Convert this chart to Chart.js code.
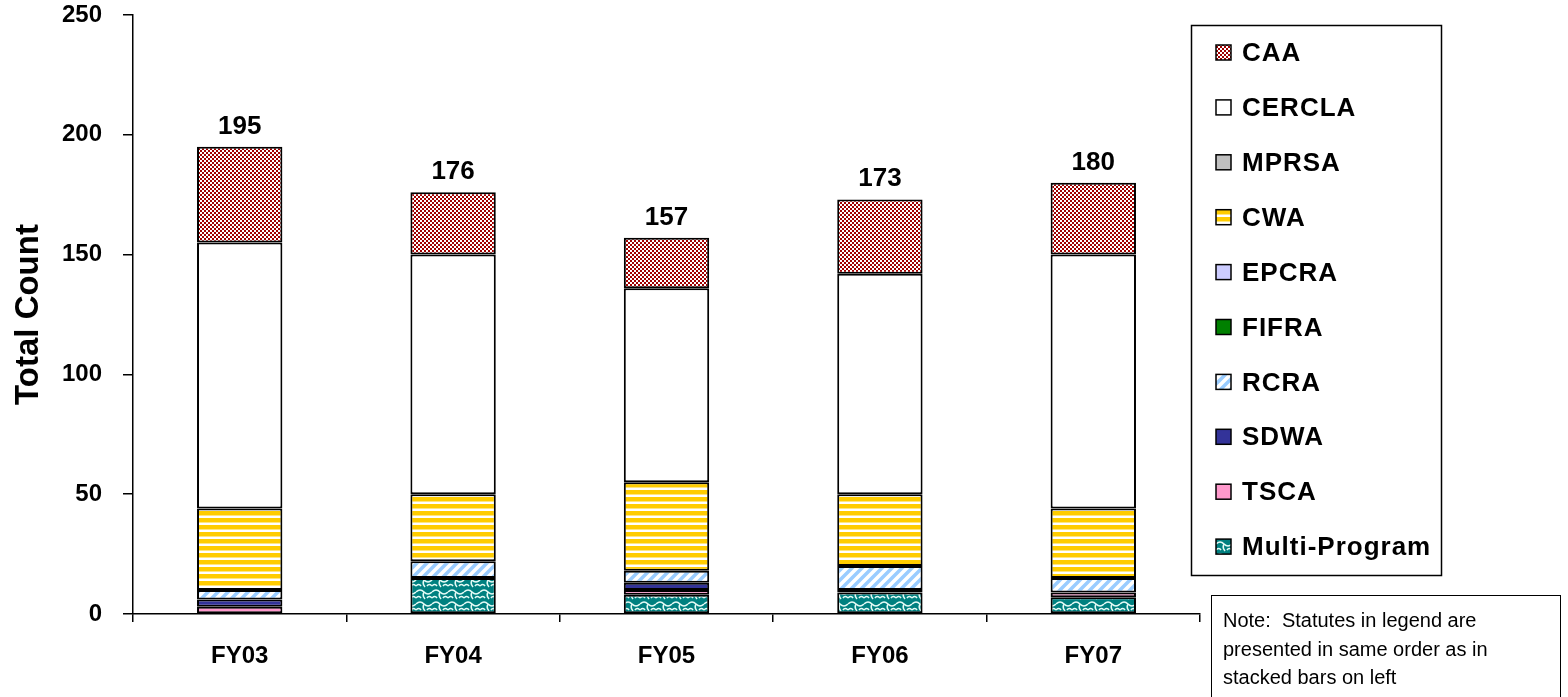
<!DOCTYPE html>
<html>
<head>
<meta charset="utf-8">
<title>Total Count by Statute</title>
<script src="https://cdn.jsdelivr.net/npm/chart.js@4.4.1/dist/chart.umd.min.js"></script>
<style>
  html, body { margin: 0; padding: 0; background: #fff; }
  #wrap { position: relative; width: 1568px; height: 697px; overflow: hidden; }
  #note {
    position: absolute; left: 1211px; top: 595px; width: 350px; height: 120px;
    border: 1.5px solid #000; box-sizing: border-box;
    padding: 10px 0 0 11px;
    font: 20px "Liberation Sans", Arial, sans-serif; line-height: 28.5px; color: #000;
  }
</style>
</head>
<body>
<div id="wrap">
  <canvas id="chart" width="1568" height="697"></canvas>
  <div id="note">Note:&nbsp; Statutes in legend are<br>presented in same order as in<br>stacked bars on left</div>
</div>
<script>
// data (stack order, bottom first)
const categories = ['FY03', 'FY04', 'FY05', 'FY06', 'FY07'];
const multiProgram = [0, 15, 8, 9, 7];
const tsca = [3, 0, 2, 1, 2];
const sdwa = [3, 0, 3, 0, 0];
const rcra = [4, 7, 5, 10, 6];
const fifra = [0, 0, 0, 0, 0];
const epcra = [0, 0, 0, 0, 0];
const cwa = [34, 28, 37, 30, 29];
const mprsa = [0, 0, 0, 0, 0];
const cercla = [111, 100, 81, 92, 106];
const caa = [40, 26, 21, 31, 30];
const yTicks = [0, 50, 100, 150, 200, 250];

const FONT = '"Liberation Sans", Arial, sans-serif';

// little pattern tiles
function tile(w, h, draw) {
    const c = document.createElement('canvas');
    c.width = w; c.height = h;
    const g = c.getContext('2d');
    draw(g);
    return document.getElementById('chart').getContext('2d').createPattern(c, 'repeat');
}

const checkRed = tile(4, 4, g => {
    g.fillStyle = '#a00000'; g.fillRect(0, 0, 4, 4);
    g.fillStyle = '#ffffff'; g.fillRect(0, 0, 2, 2); g.fillRect(2, 2, 2, 2);
});
const stripeYellow = tile(7, 7, g => {
    g.fillStyle = '#ffffff'; g.fillRect(0, 0, 7, 7);
    g.fillStyle = '#ffcc00'; g.fillRect(0, 0, 7, 4);
    g.fillStyle = '#ffe680'; g.fillRect(0, 4, 7, 1);
});
const diagBlue = tile(10, 10, g => {
    g.fillStyle = '#ffffff'; g.fillRect(0, 0, 10, 10);
    g.strokeStyle = '#99ccff'; g.lineWidth = 3.5;
    g.beginPath();
    g.moveTo(-5, 15); g.lineTo(15, -5);
    g.moveTo(-5, 5); g.lineTo(5, -5);
    g.moveTo(5, 15); g.lineTo(15, 5);
    g.stroke();
});
const waveTeal = tile(16, 12, g => {
    g.fillStyle = '#008080'; g.fillRect(0, 0, 16, 12);
    g.strokeStyle = '#e6fbf6'; g.lineWidth = 1.6;
    g.beginPath();
    g.moveTo(0, 4); g.quadraticCurveTo(4, 0, 8, 4); g.quadraticCurveTo(12, 8, 16, 4);
    g.moveTo(8, 4); g.quadraticCurveTo(6, 8, 9, 11);
    g.moveTo(0, 10); g.quadraticCurveTo(3, 7, 5, 10);
    g.moveTo(11, 10); g.quadraticCurveTo(13, 7, 16, 10);
    g.stroke();
});

const series = [
    { label: 'Multi-Program', data: multiProgram, bg: waveTeal },
    { label: 'TSCA', data: tsca, bg: '#ff99cc' },
    { label: 'SDWA', data: sdwa, bg: '#333399' },
    { label: 'RCRA', data: rcra, bg: diagBlue },
    { label: 'FIFRA', data: fifra, bg: '#008000' },
    { label: 'EPCRA', data: epcra, bg: '#ccccff' },
    { label: 'CWA', data: cwa, bg: stripeYellow },
    { label: 'MPRSA', data: mprsa, bg: '#c0c0c0' },
    { label: 'CERCLA', data: cercla, bg: '#ffffff' },
    { label: 'CAA', data: caa, bg: checkRed }
];

// totals above each stack
const totalsPlugin = {
    id: 'totals',
    afterDatasetsDraw(chart) {
        const ctx = chart.ctx;
        const x = chart.scales.x, y = chart.scales.y;
        ctx.save();
        ctx.font = 'bold 26px ' + FONT;
        ctx.fillStyle = '#000';
        ctx.textAlign = 'center';
        ctx.textBaseline = 'alphabetic';
        categories.forEach((c, i) => {
            let total = 0;
            chart.data.datasets.forEach(ds => { total += ds.data[i]; });
            ctx.fillText(String(total), x.getPixelForValue(i), y.getPixelForValue(total) - 13);
        });
        ctx.restore();
    }
};

// boxed legend on the right, top of stack first
const boxLegend = {
    id: 'boxLegend',
    afterDraw(chart) {
        const ctx = chart.ctx;
        ctx.save();
        ctx.strokeStyle = '#000';
        ctx.lineWidth = 1.5;
        ctx.strokeRect(1191.5, 25.5, 250, 550);
        ctx.font = 'bold 26px ' + FONT;
        ctx.letterSpacing = '1px';
        ctx.textAlign = 'left';
        ctx.textBaseline = 'middle';
        const list = chart.data.datasets.slice().reverse();
        list.forEach((ds, k) => {
            const cy = 53 + k * 54.9;
            ctx.fillStyle = ds.backgroundColor;
            ctx.fillRect(1216, cy - 8, 15, 15);
            ctx.strokeRect(1216, cy - 8, 15, 15);
            ctx.fillStyle = '#000';
            ctx.fillText(ds.label, 1242, cy + 1);
        });
        ctx.restore();
    }
};

const chart = new Chart(document.getElementById('chart'), {
    type: 'bar',
    data: {
        labels: categories,
        datasets: series.map(s => ({
            label: s.label,
            data: s.data,
            backgroundColor: s.bg,
            borderColor: '#000',
            borderWidth: 2,
            borderSkipped: false,
            barPercentage: 0.4,
            categoryPercentage: 1.0
        }))
    },
    options: {
        responsive: false,
        animation: false,
        layout: { padding: { left: 0, right: 368, top: 15, bottom: 0 } },
        plugins: {
            legend: { display: false },
            tooltip: { enabled: false }
        },
        scales: {
            x: {
                stacked: true,
                afterFit: s => { s.height = 83; s.paddingLeft = 0; s.paddingRight = 0; },
                border: { display: true, color: '#000', width: 1.5 },
                grid: { display: true, drawOnChartArea: false, drawTicks: true, tickLength: 8, color: '#000', lineWidth: 1.5, offset: true },
                ticks: { color: '#000', font: { family: FONT, size: 24, weight: 'bold' }, padding: 20 }
            },
            y: {
                stacked: true,
                min: yTicks[0],
                max: yTicks[yTicks.length - 1],
                afterFit: s => { s.width = 133; s.paddingTop = 0; s.paddingBottom = 0; },
                afterBuildTicks: s => { s.ticks = yTicks.map(v => ({ value: v })); },
                border: { display: true, color: '#000', width: 1.5 },
                grid: { display: true, drawOnChartArea: false, drawTicks: true, tickLength: 10, color: '#000', lineWidth: 1.5 },
                ticks: { color: '#000', font: { family: FONT, size: 24, weight: 'bold' }, padding: 21 },
                title: {
                    display: true,
                    text: 'Total Count',
                    color: '#000',
                    font: { family: FONT, size: 33, weight: 'bold' },
                    padding: { top: 9, bottom: 0 }
                }
            }
        }
    },
    plugins: [totalsPlugin, boxLegend]
});
</script>
</body>
</html>
